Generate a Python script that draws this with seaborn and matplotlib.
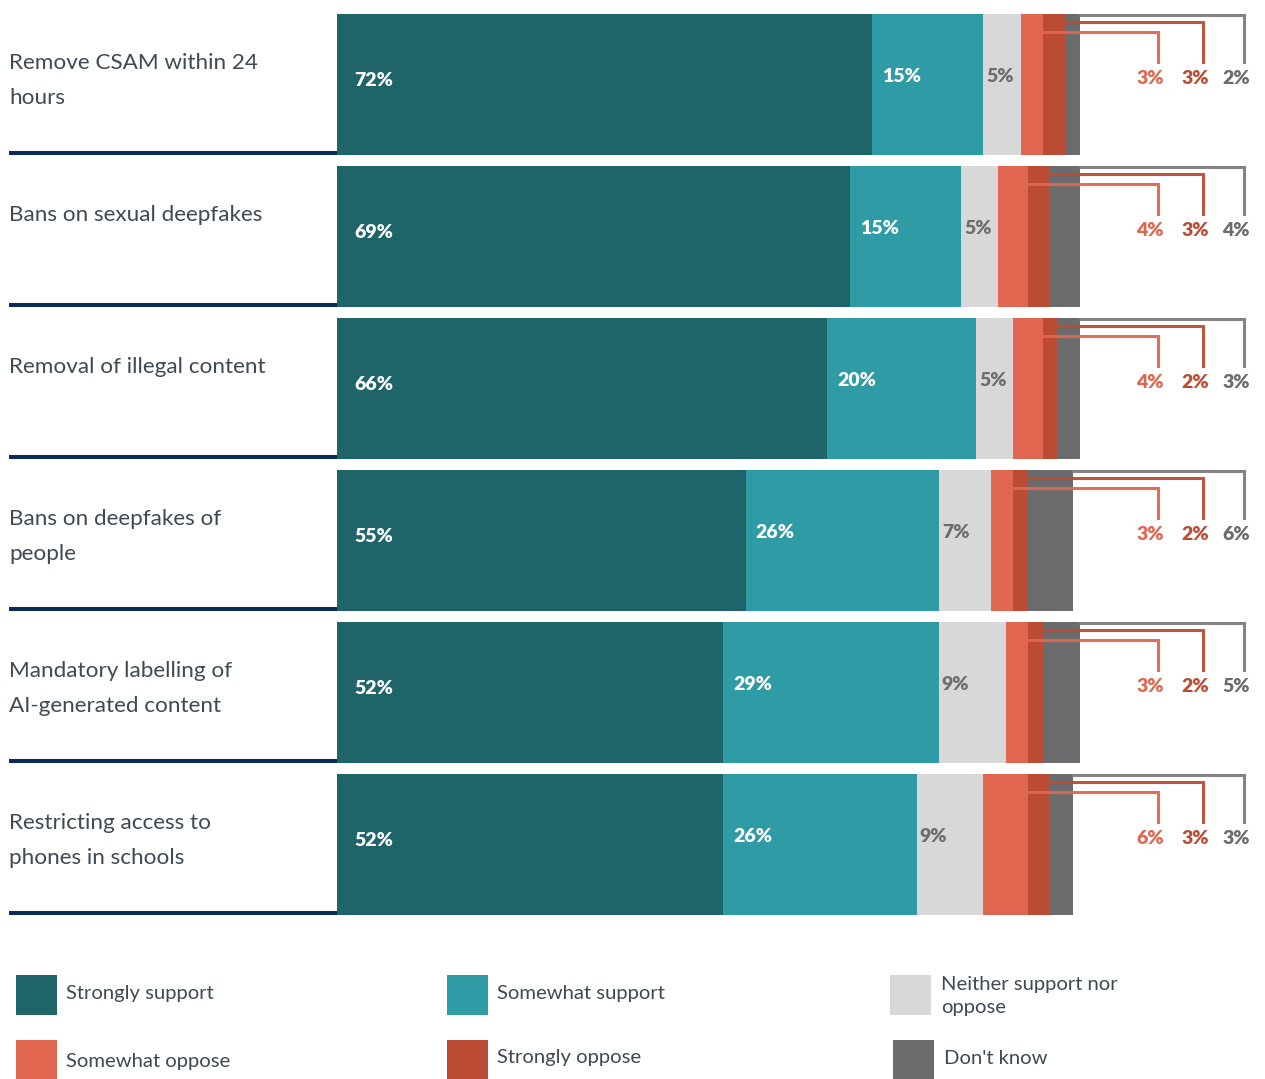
import matplotlib
matplotlib.use("Agg")
import matplotlib.pyplot as plt
from matplotlib.patches import Rectangle
import numpy as np
import pandas as pd
import seaborn as sns

# ---- data -------------------------------------------------------------
categories = [
    "Remove CSAM within 24\nhours",
    "Bans on sexual deepfakes",
    "Removal of illegal content",
    "Bans on deepfakes of\npeople",
    "Mandatory labelling of\nAI-generated content",
    "Restricting access to\nphones in schools",
]
responses = ["Strongly support", "Somewhat support", "Neither support nor\noppose",
             "Somewhat oppose", "Strongly oppose", "Don't know"]
strongly_support = [72, 69, 66, 55, 52, 52]
somewhat_support = [15, 15, 20, 26, 29, 26]
neither = [5, 5, 5, 7, 9, 9]
somewhat_oppose = [3, 4, 4, 3, 3, 6]
strongly_oppose = [3, 3, 2, 2, 2, 3]
dont_know = [2, 4, 3, 6, 5, 3]

colors = ["#1f6469", "#2e9ba5", "#d8d8d8", "#e06650", "#bc4b34", "#6b6b6d"]
text_color = "#3e4a54"
navy = "#0c2b58"

series = [strongly_support, somewhat_support, neither,
          somewhat_oppose, strongly_oppose, dont_know]
vals = np.array(series, dtype=float)          # shape (6 responses, 6 categories)
cum = np.cumsum(vals, axis=0)                 # right edge of each segment
starts = cum - vals                           # left edge of each segment

df = pd.DataFrame({"category": categories})
for k, name in enumerate(responses):
    df[f"cum{k}"] = cum[k]

# ---- figure / geometry ---------------------------------------------------
W, H = 1265, 1079
fig = plt.figure(figsize=(W / 100, H / 100), dpi=100)
PX_PER_UNIT = 7.43          # horizontal pixels per percentage point
ROW_PX = 152                # vertical pixels per row
X0 = 337                    # pixel where 0% sits
ax = fig.add_axes([X0 / W, 149 / H, (W - X0) / W, 930 / H])

def px2x(px):
    return (px - X0) / PX_PER_UNIT

BAR_W = 141 / ROW_PX
font = "Lato"

# stacked bars: draw cumulative totals from the outermost layer inwards
for k in range(len(responses) - 1, -1, -1):
    sns.barplot(data=df, x=f"cum{k}", y="category", orient="h",
                color=colors[k], saturation=1, width=BAR_W,
                linewidth=0, ax=ax)

ax.set_xlim(0, px2x(W))
ax.set_ylim(5 + (930 - 84.5 - 760) / ROW_PX, -84.5 / ROW_PX)
ax.axis("off")

dy = 1 / ROW_PX   # one pixel in data units (vertical)
dx = 1 / PX_PER_UNIT
num_kw = dict(fontsize=14, fontweight="heavy", family=font)

for i, cat in enumerate(categories):
    top = i - BAR_W / 2
    # category label, one text per line
    for j, line in enumerate(cat.split("\n")):
        ax.text(px2x(9), top + (49 + 35 * j) * dy, line, ha="left", va="center",
                fontsize=16.2, color=text_color, family=font, clip_on=False)
    # navy rule under the label
    ax.plot([px2x(9), 0], [top + 139 * dy] * 2, color=navy, lw=2.9,
            solid_capstyle="butt", clip_on=False)

    # in-bar value labels
    ax.text(starts[0, i] + 17 * dx, i - 4 * dy, f"{int(vals[0, i])}%",
            ha="left", va="center", color="white", **num_kw)
    ax.text(starts[1, i] + 10 * dx, i - 8 * dy, f"{int(vals[1, i])}%",
            ha="left", va="center", color="white", **num_kw)
    ax.text(starts[2, i] + 3 * dx, i - 8 * dy, f"{int(vals[2, i])}%",
            ha="left", va="center", color="#6d6d6d", **num_kw)

    # call-out connectors for the small segments
    for k, line_off, vx in [(3, 18, 1158), (4, 8, 1203), (5, 1, 1244)]:
        y_h = top + line_off * dy
        y_end = top + 48 * dy
        xs = [cum[k, i], px2x(vx), px2x(vx)]
        ys = [y_h, y_h, y_end]
        ax.plot(xs, ys, color=colors[k] if k != 5 else "#7c7c7c", lw=2.2,
                solid_joinstyle="miter", clip_on=False, alpha=0.95)
        ax.text(px2x(vx + 6), i - 6 * dy, f"{int(vals[k, i])}%",
                ha="right", va="center", color=colors[k], clip_on=False,
                **num_kw)

# ---- legend ----------------------------------------------------------------
legend_pos = [
    (16, 975, 66, 993),    # strongly support
    (447, 975, 497, 993),  # somewhat support
    (890, 975, 941, 996),  # neither
    (16, 1040, 66, 1061),  # somewhat oppose
    (447, 1040, 497, 1057),  # strongly oppose
    (893, 1040, 944, 1058),  # don't know
]
for k, (sx, sy, tx, ty) in enumerate(legend_pos):
    fig.patches.append(Rectangle((sx / W, 1 - (sy + 40) / H), 41 / W, 40 / H,
                                 transform=fig.transFigure, color=colors[k],
                                 linewidth=0))
    fig.text(tx / W, 1 - ty / H, responses[k], ha="left", va="center",
             fontsize=14.6, color=text_color, family=font, linespacing=1.45)

fig.savefig("out.png", dpi=100, facecolor="white")
